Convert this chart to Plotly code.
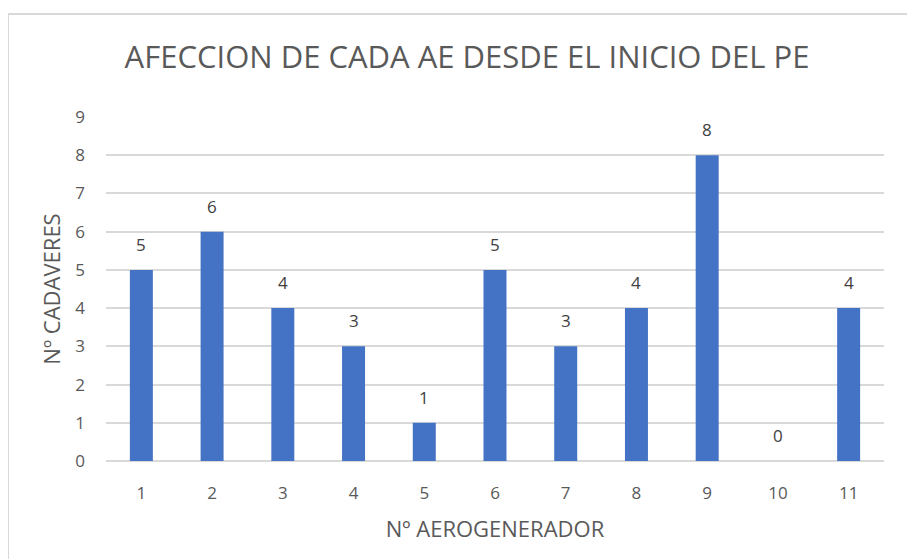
import plotly.graph_objects as go

aerogeneradores = ["1", "2", "3", "4", "5", "6", "7", "8", "9", "10", "11"]
cadaveres = [5, 6, 4, 3, 1, 5, 3, 4, 8, 0, 4]
y_ticks = list(range(0, 10))

TITLE = "AFECCION DE CADA AE DESDE EL INICIO DEL PE"
X_TITLE = "Nº AEROGENERADOR"
Y_TITLE = "Nº CADAVERES"

FONT = "Open Sans"
TXT = "#595959"
GRID = "#d9d9d9"
BAR = "#4472C4"

OFF = 8  # page body margin
W, H = 915 - OFF, 559 - OFF
L, R, T, B = 106 - OFF, 31, 117 - OFF, 98
pw, ph = W - L - R, H - T - B

fig = go.Figure()
fig.add_trace(go.Bar(
    x=aerogeneradores, y=cadaveres,
    marker=dict(color=BAR, line=dict(width=0)),
    hoverinfo="x+y",
))

annotations = []
for i, v in enumerate(cadaveres):
    annotations.append(dict(
        x=i, y=v, xref="x", yref="y", text=str(v), showarrow=False,
        yanchor="bottom", yshift=12,
        font=dict(family=FONT, size=17, color="#404040"),
    ))

fig.update_layout(
    width=W, height=H,
    margin=dict(l=L, r=R, t=T, b=B, autoexpand=False),
    paper_bgcolor="white", plot_bgcolor="white",
    bargap=0.675,
    showlegend=False,
    title=dict(
        text=TITLE, x=(467 - OFF) / W, xanchor="center", xref="container",
        y=1 - (57 - OFF) / H, yanchor="middle", yref="container",
        font=dict(family=FONT, size=31, color=TXT),
    ),
    xaxis=dict(
        type="category", range=[-0.5, len(aerogeneradores) - 0.5],
        automargin=False,
        showgrid=False, showline=False, zeroline=False,
        ticks="", ticklabelstandoff=20,
        tickfont=dict(family=FONT, size=17, color=TXT),
        title=dict(text=X_TITLE, standoff=18,
                   font=dict(family=FONT, size=22, color=TXT)),
    ),
    yaxis=dict(
        range=[0, 9], tickvals=y_ticks, automargin=False,
        showgrid=True, gridcolor=GRID, gridwidth=2,
        zeroline=True, zerolinecolor=GRID, zerolinewidth=2,
        showline=False, ticks="", ticklabelstandoff=20,
        tickfont=dict(family=FONT, size=17, color=TXT),
        title=dict(text=Y_TITLE, standoff=8,
                   font=dict(family=FONT, size=22, color=TXT)),
    ),
    annotations=annotations,
    shapes=[dict(
        type="rect", xref="paper", yref="paper",
        x0=(8 - 106) / pw, x1=1.2, y0=-0.6, y1=(461 - 14) / ph,
        line=dict(color=GRID, width=2), fillcolor="rgba(0,0,0,0)", layer="below",
    )],
)

fig.write_html("out.html")
